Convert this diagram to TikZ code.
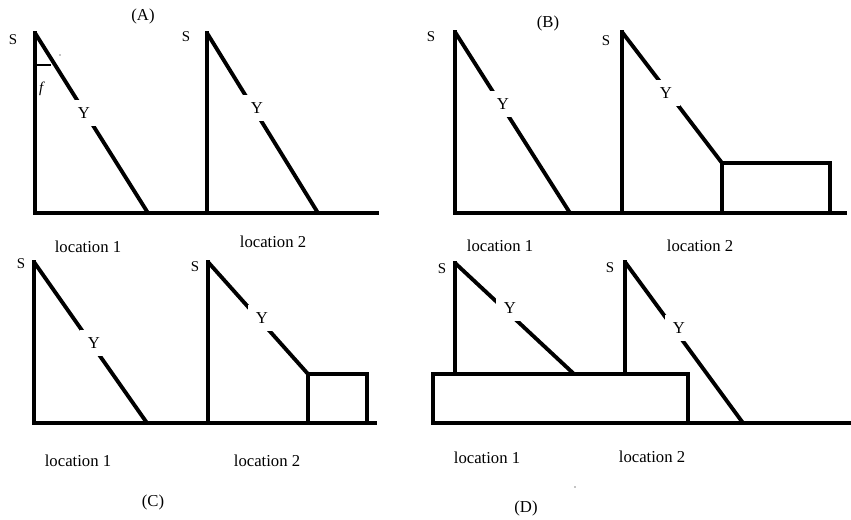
\documentclass[tikz,border=0pt]{standalone}
\usepackage{fontspec}
\setmainfont{Liberation Serif}
\usepackage{tikz}
\usetikzlibrary{positioning}

\begin{document}
\begin{tikzpicture}[
    x=0.02cm, y=-0.02cm,
    wall/.style={draw,line width=2.2pt,line cap=rect},
    slope/.style={draw,line width=2.2pt},
    block/.style={draw,line width=2pt},
    ylbl/.style={fill=white,inner sep=4.5pt,font=\fontsize{9.5}{11}\selectfont},
    slbl/.style={inner sep=1pt,font=\fontsize{8.5}{10}\selectfont},
    loclbl/.style={inner sep=1pt,font=\fontsize{9.5}{11}\selectfont},
    panel/.style={inner sep=1pt,font=\fontsize{9.5}{11}\selectfont}
  ]
    \useasboundingbox (0,0) rectangle (851,520);

    % Panel A
    \coordinate (A1-top) at (35,33);
    \coordinate (A1-foot) at (148,213);
    \coordinate (A2-top) at (207,33);
    \coordinate (A2-foot) at (318,213);
    \coordinate (A-left) at (35,213);
    \coordinate (A-right) at (377,213);
    \draw[wall] (A-left) -- (A-right);
    \draw[wall] (A1-top) -- (A1-top |- A-left);
    \draw[wall] (A2-top) -- (A2-top |- A-left);
    \draw[slope] (A1-top) -- (A1-foot);
    \draw[slope] (A2-top) -- (A2-foot);
    \draw[line width=1pt] (35,65) -- (51,65);
    \fill (60,55) circle (0.3pt);
    \node[ylbl] (A1-Y) at (84,113) {Y};
    \node[ylbl] (A2-Y) at (257,108) {Y};
    \node[slbl] (A1-S) at (13,40) {S};
    \node[slbl] (A2-S) at (186,37) {S};
    \node[slbl] (A-f) at (42,89) {\textit{f}};
    \node[panel] (A-name) at (143,16) {(A)};
    \node[loclbl] (A-loc1) at (88,247) {location 1};
    \node[loclbl] (A-loc2) at (273,242) {location 2};

    % Panel B
    \coordinate (B1-top) at (455,32);
    \coordinate (B1-foot) at (570,213);
    \coordinate (B2-top) at (622,32);
    \coordinate (B-box-nw) at (722,163);
    \coordinate (B-box-se) at (830,213);
    \coordinate (B-left) at (455,213);
    \coordinate (B-right) at (845,213);
    \draw[wall] (B-left) -- (B-right);
    \draw[wall] (B1-top) -- (B1-top |- B-left);
    \draw[wall] (B2-top) -- (B2-top |- B-left);
    \draw[slope] (B1-top) -- (B1-foot);
    \draw[slope] (B2-top) -- (B-box-nw);
    \draw[block] (B-box-nw) rectangle (B-box-se);
    \node[ylbl] (B1-Y) at (503,104) {Y};
    \node[ylbl] (B2-Y) at (666,93) {Y};
    \node[slbl] (B1-S) at (431,37) {S};
    \node[slbl] (B2-S) at (606,41) {S};
    \node[panel] (B-name) at (548,23) {(B)};
    \node[loclbl] (B-loc1) at (500,246) {location 1};
    \node[loclbl] (B-loc2) at (700,246) {location 2};

    % Panel C
    \coordinate (C1-top) at (34,262);
    \coordinate (C1-foot) at (147,423);
    \coordinate (C2-top) at (208,262);
    \coordinate (C-box-nw) at (308,374);
    \coordinate (C-box-se) at (367,423);
    \coordinate (C-left) at (34,423);
    \coordinate (C-right) at (375,423);
    \draw[wall] (C-left) -- (C-right);
    \draw[wall] (C1-top) -- (C1-top |- C-left);
    \draw[wall] (C2-top) -- (C2-top |- C-left);
    \draw[slope] (C1-top) -- (C1-foot);
    \draw[slope] (C2-top) -- (C-box-nw);
    \draw[block] (C-box-nw) rectangle (C-box-se);
    \node[ylbl] (C1-Y) at (94,343) {Y};
    \node[ylbl] (C2-Y) at (262,318) {Y};
    \node[slbl] (C1-S) at (21,264) {S};
    \node[slbl] (C2-S) at (195,267) {S};
    \node[panel] (C-name) at (153,502) {(C)};
    \node[loclbl] (C-loc1) at (78,461) {location 1};
    \node[loclbl] (C-loc2) at (267,461) {location 2};

    % Panel D
    \coordinate (D1-top) at (455,263);
    \coordinate (D1-foot) at (574,374);
    \coordinate (D2-top) at (625,262);
    \coordinate (D2-foot) at (743,423);
    \coordinate (D-box-nw) at (433,374);
    \coordinate (D-box-se) at (688,423);
    \coordinate (D-right) at (850,423);
    \draw[block] (D-box-nw) rectangle (D-box-se);
    \draw[wall] (D-box-se) -- (D-right);
    \draw[wall] (D1-top) -- (D1-top |- D-box-nw);
    \draw[wall] (D2-top) -- (D2-top |- D-box-nw);
    \draw[slope] (D1-top) -- (D1-foot);
    \draw[slope] (D2-top) -- (D2-foot);
    \fill (575,487) circle (0.4pt);
    \node[ylbl] (D1-Y) at (510,308) {Y};
    \node[ylbl] (D2-Y) at (679,328) {Y};
    \node[slbl] (D1-S) at (442,269) {S};
    \node[slbl] (D2-S) at (610,268) {S};
    \node[panel] (D-name) at (526,508) {(D)};
    \node[loclbl] (D-loc1) at (487,458) {location 1};
    \node[loclbl] (D-loc2) at (652,457) {location 2};

\end{tikzpicture}
\end{document}
